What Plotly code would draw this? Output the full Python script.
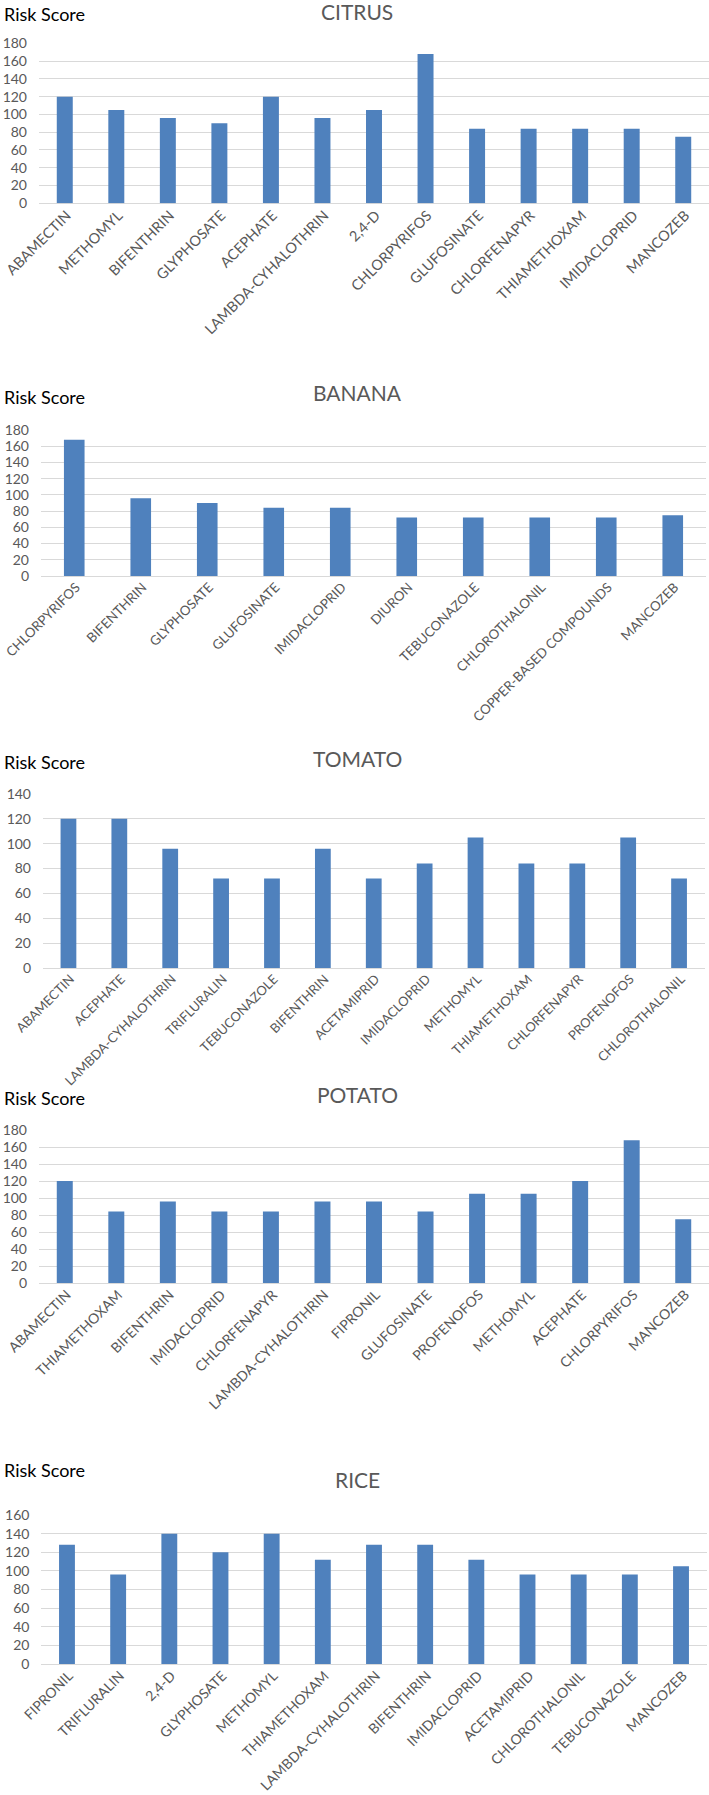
import plotly.graph_objects as go

W, H = 709, 1795

citrus_labels = ["ABAMECTIN", "METHOMYL", "BIFENTHRIN", "GLYPHOSATE", "ACEPHATE",
                 "LAMBDA-CYHALOTHRIN", "2,4-D", "CHLORPYRIFOS", "GLUFOSINATE",
                 "CHLORFENAPYR", "THIAMETHOXAM", "IMIDACLOPRID", "MANCOZEB"]
citrus_scores = [120, 105, 96, 90, 120, 96, 105, 168, 84, 84, 84, 84, 75]

banana_labels = ["CHLORPYRIFOS", "BIFENTHRIN", "GLYPHOSATE", "GLUFOSINATE", "IMIDACLOPRID",
                 "DIURON", "TEBUCONAZOLE", "CHLOROTHALONIL", "COPPER-BASED COMPOUNDS", "MANCOZEB"]
banana_scores = [168, 96, 90, 84, 84, 72, 72, 72, 72, 75]

tomato_labels = ["ABAMECTIN", "ACEPHATE", "LAMBDA-CYHALOTHRIN", "TRIFLURALIN", "TEBUCONAZOLE",
                 "BIFENTHRIN", "ACETAMIPRID", "IMIDACLOPRID", "METHOMYL", "THIAMETHOXAM",
                 "CHLORFENAPYR", "PROFENOFOS", "CHLOROTHALONIL"]
tomato_scores = [120, 120, 96, 72, 72, 96, 72, 84, 105, 84, 84, 105, 72]

potato_labels = ["ABAMECTIN", "THIAMETHOXAM", "BIFENTHRIN", "IMIDACLOPRID", "CHLORFENAPYR",
                 "LAMBDA-CYHALOTHRIN", "FIPRONIL", "GLUFOSINATE", "PROFENOFOS", "METHOMYL",
                 "ACEPHATE", "CHLORPYRIFOS", "MANCOZEB"]
potato_scores = [120, 84, 96, 84, 84, 96, 96, 84, 105, 105, 120, 168, 75]

rice_labels = ["FIPRONIL", "TRIFLURALIN", "2,4-D", "GLYPHOSATE", "METHOMYL", "THIAMETHOXAM",
               "LAMBDA-CYHALOTHRIN", "BIFENTHRIN", "IMIDACLOPRID", "ACETAMIPRID",
               "CHLOROTHALONIL", "TEBUCONAZOLE", "MANCOZEB"]
rice_scores = [128, 96, 140, 120, 140, 112, 128, 128, 112, 96, 96, 96, 105]

crop_titles = ["CITRUS", "BANANA", "TOMATO", "POTATO", "RICE"]
y_max = [180, 180, 140, 180, 160]
y_title = "Risk Score"

panels = [
    # labels, scores, x0, x1 (px), top, bottom (px), title_y, riskscore_y, label font
    (citrus_labels, citrus_scores, 39, 709, 43.3, 203.3, 11, 14, 14.5),
    (banana_labels, banana_scores, 41, 706, 430, 576, 393, 397, 13.3),
    (tomato_labels, tomato_scores, 43, 704.5, 794, 968, 758, 762, 13),
    (potato_labels, potato_scores, 39, 709, 1130, 1283, 1094, 1098, 14),
    (rice_labels, rice_scores, 41.4, 706.6, 1515, 1664, 1479, 1470, 14),
]

BAR = "#4f81bd"
GRID = "#d9d9d9"
TXT = "#595959"
FONT = "Lato"

fig = go.Figure()
layout = dict(
    width=W, height=H, margin=dict(l=0, r=0, t=0, b=0),
    paper_bgcolor="white", plot_bgcolor="white",
    showlegend=False, bargap=0.69,
    font=dict(family=FONT, color=TXT),
)
annotations = []

for i, (labs, vals, x0, x1, top, bot, ty, ry, lfs) in enumerate(panels):
    n = i + 1
    xa = "x" if n == 1 else f"x{n}"
    ya = "y" if n == 1 else f"y{n}"
    fig.add_trace(go.Bar(x=labs, y=vals, marker=dict(color=BAR, line=dict(width=0)),
                         xaxis=xa, yaxis=ya, width=0.31))
    layout[f"xaxis{'' if n == 1 else n}"] = dict(
        domain=[x0 / W, x1 / W], anchor=ya, type="category",
        tickmode="array", tickvals=labs, ticktext=labs,
        tickangle=-45, tickfont=dict(family=FONT, size=lfs, color=TXT),
        ticklabelstandoff=0, ticklabelshift=2,
        showgrid=False, showline=False, zeroline=False, ticks="",
        automargin=False, fixedrange=True,
    )
    layout[f"yaxis{'' if n == 1 else n}"] = dict(
        domain=[1 - bot / H, 1 - top / H], anchor=xa,
        range=[0, y_max[i]], dtick=20, tick0=0,
        showgrid=True, gridcolor=GRID, gridwidth=1,
        zeroline=True, zerolinecolor=GRID, zerolinewidth=1,
        showline=False, ticks="", ticklabelstandoff=11,
        tickfont=dict(family=FONT, size=14, color=TXT),
        automargin=False, fixedrange=True,
    )
    annotations.append(dict(
        text=crop_titles[i], x=357 / W, y=1 - ty / H, xref="paper", yref="paper",
        xanchor="center", yanchor="middle", showarrow=False,
        font=dict(family=FONT, size=21, color=TXT)))
    annotations.append(dict(
        text=y_title, x=2 / W, y=1 - ry / H, xref="paper", yref="paper",
        xanchor="left", yanchor="middle", showarrow=False,
        font=dict(family=FONT, size=18, color="#000000")))

layout["annotations"] = annotations
fig.update_layout(**layout)
fig.write_html("out.html")
